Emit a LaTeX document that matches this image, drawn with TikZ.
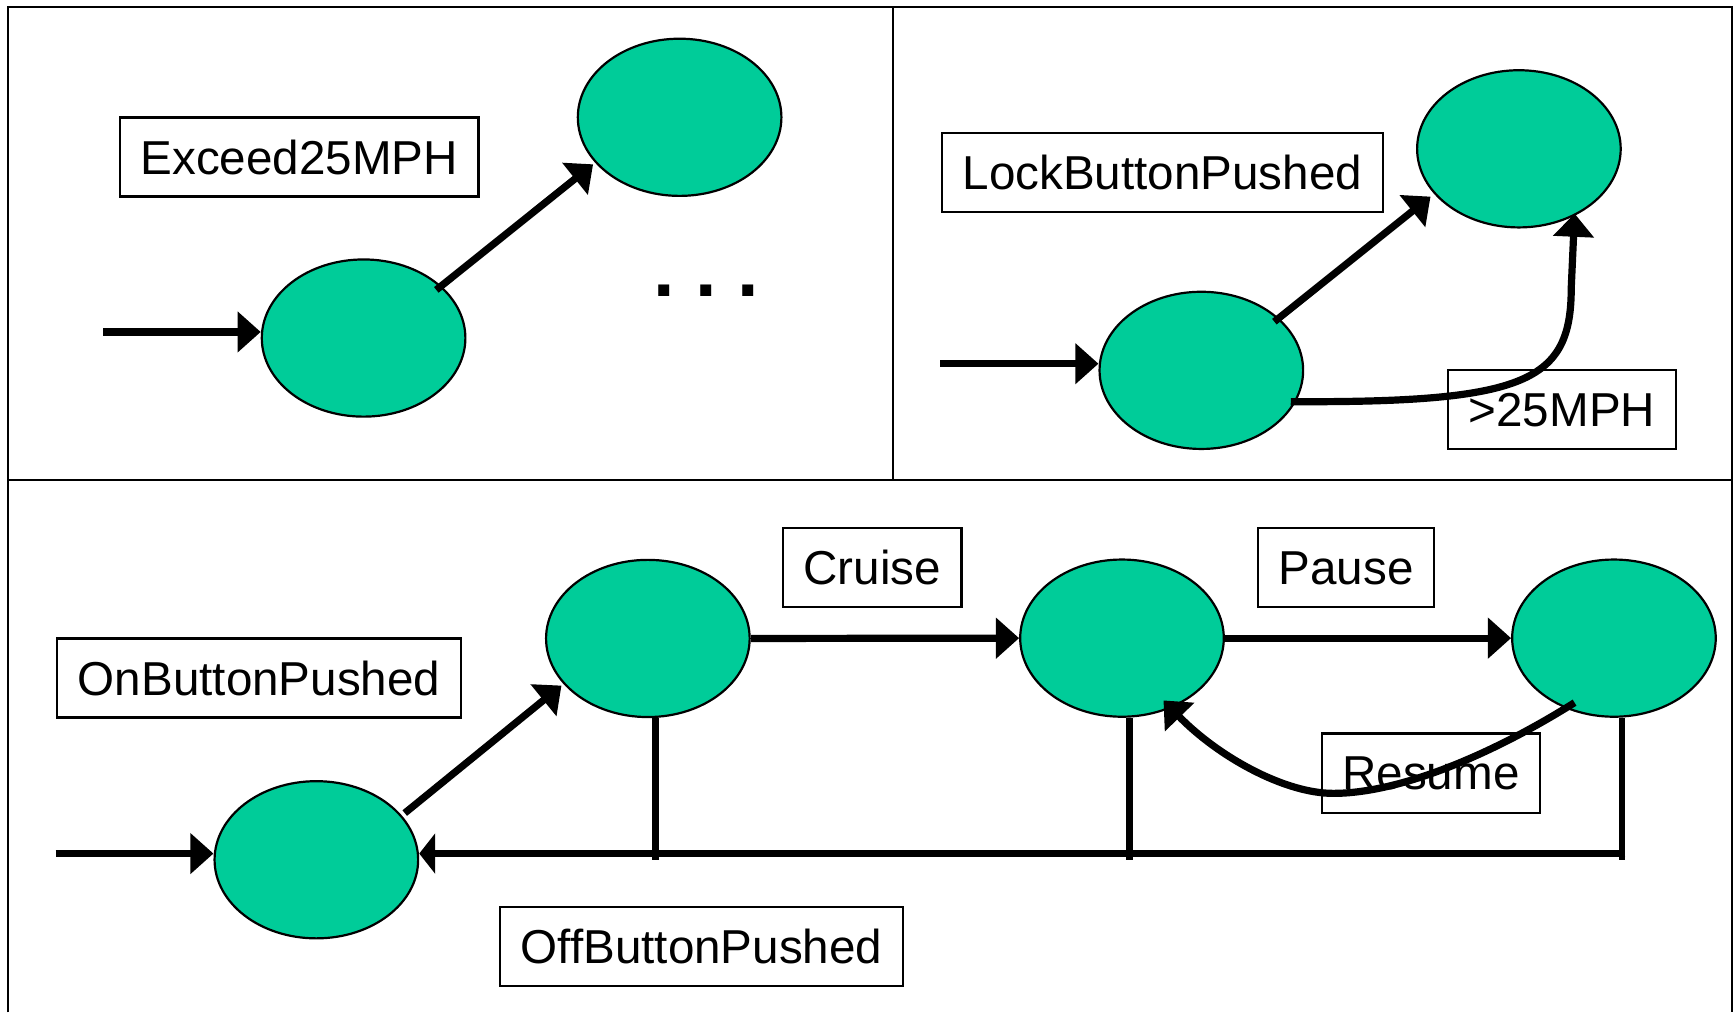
\documentclass[tikz,border=0pt]{standalone}
\usepackage{fontspec}
\setmainfont{Liberation Sans}
\usetikzlibrary{arrows.meta,calc,shapes.geometric}
\definecolor{stategreen}{RGB}{0,204,153}
\begin{document}
\begin{tikzpicture}[x=0.5533pt,y=-0.5533pt,
  state/.style={ellipse,draw=black,line width=1.1pt,fill=stategreen,
    minimum width=101.8pt,minimum height=78.6pt,inner sep=0pt},
  labelbox/.style={draw=black,line width=1.2pt,inner xsep=10.3pt,inner ysep=0pt,
    minimum height=39.6pt,text depth=0pt,font=\fontsize{23.8pt}{28pt}\selectfont},
  trans/.style={line width=3.6pt,-{Triangle[length=11.6pt,width=19.9pt]}},
  bar/.style={line width=3.4pt},
  frameline/.style={line width=1.1pt}]
\useasboundingbox (0,0) rectangle (1568,915);

% panel frame
\draw[frameline] (7.3,915) -- (7.3,6) -- (1565,6) -- (1565,915);
\draw[frameline] (7.3,433.8) -- (1565,433.8);
\draw[frameline] (806.7,6) -- (806.7,433.8);

% states
\node[state] (A1) at (328.6,305.5) {};
\node[state] (A2) at (614.2,106) {};
\node[state] (B1) at (1085.7,334.7) {};
\node[state] (B2) at (1372.7,134.5) {};
\node[state] (C1) at (285.9,777) {};
\node[state] (C2) at (585.5,577) {};
\node[state] (C3) at (1014,576.7) {};
\node[state] (C4) at (1458.6,576.7) {};

% event labels
\node[labelbox] (lExceed) at (270.5,141.9) {Exceed25MPH};
\node[labelbox] (lLock) at (1050.5,156) {LockButtonPushed};
\node[labelbox] (lFast) at (1411.6,370.2) {>25MPH};
\node[labelbox] (lOn) at (234.2,612.7) {OnButtonPushed};
\node[labelbox] (lCruise) at (788.2,512.9) {Cruise};
\node[labelbox] (lPause) at (1216.5,513) {Pause};
\node[labelbox] (lResume) at (1293.2,698.7) {Resume};
\node[labelbox] (lOff) at (634,855.5) {OffButtonPushed};

% ellipsis
\node[font=\bfseries\fontsize{38.7pt}{40pt}\selectfont,inner sep=0pt,anchor=base]
  (dots) at (638,268) {.\hspace{10.3pt}.\hspace{10.3pt}.};

% initial transitions
\coordinate (sA) at (93.4,300);
\coordinate (sB) at (849.7,328.7);
\coordinate (sC) at (50.3,771.4);
\draw[trans] (sA) -- (sA -| A1.west);
\draw[trans] (sB) -- (sB -| B1.west);
\draw[trans] (sC) -- (sC -| C1.west);

% transitions
\draw[trans] ($(A1)+(65.7,-43.5)$) -- ($(A2)+(-78.2,42.5)$);
\draw[trans] ($(B1)+(66,-44)$) -- ($(B2)+(-79.9,43.2)$);
\draw[trans] ($(B1)+(80.8,28.3)$) .. controls (1380,364) and (1420,345) .. (1420,260)
  -- ($(B2)+(50.3,58.5)$);
\draw[trans] ($(C1)+(79.9,-42.2)$) -- ($(C2)+(-78.1,42.6)$);
\draw[trans] (C2.east) -- (C3.west);
\draw[trans] (C3.east) -- (C4.west);
\draw[trans] ($(C4)+(-35.6,58.3)$) .. controls (1340,687) and (1260,717) .. (1205,717)
  .. controls (1160,717) and (1100,683) .. ($(C3)+(37.5,56.3)$);

% OffButtonPushed bus back to the first state
\coordinate (v2) at (592.7,777);
\coordinate (v3) at (1021,777);
\coordinate (v4) at (1465.8,777);
\draw[bar] (v2 |- C2.south) -- (v2);
\draw[bar] (v3 |- C3.south) -- (v3);
\draw[bar] (v4 |- C4.south) -- (v4);
\coordinate (hr) at (1469,771.4);
\draw[line width=3.6pt,-{Triangle[length=8pt,width=19.9pt]}] (hr) -- (hr -| C1.east);
\end{tikzpicture}
\end{document}
